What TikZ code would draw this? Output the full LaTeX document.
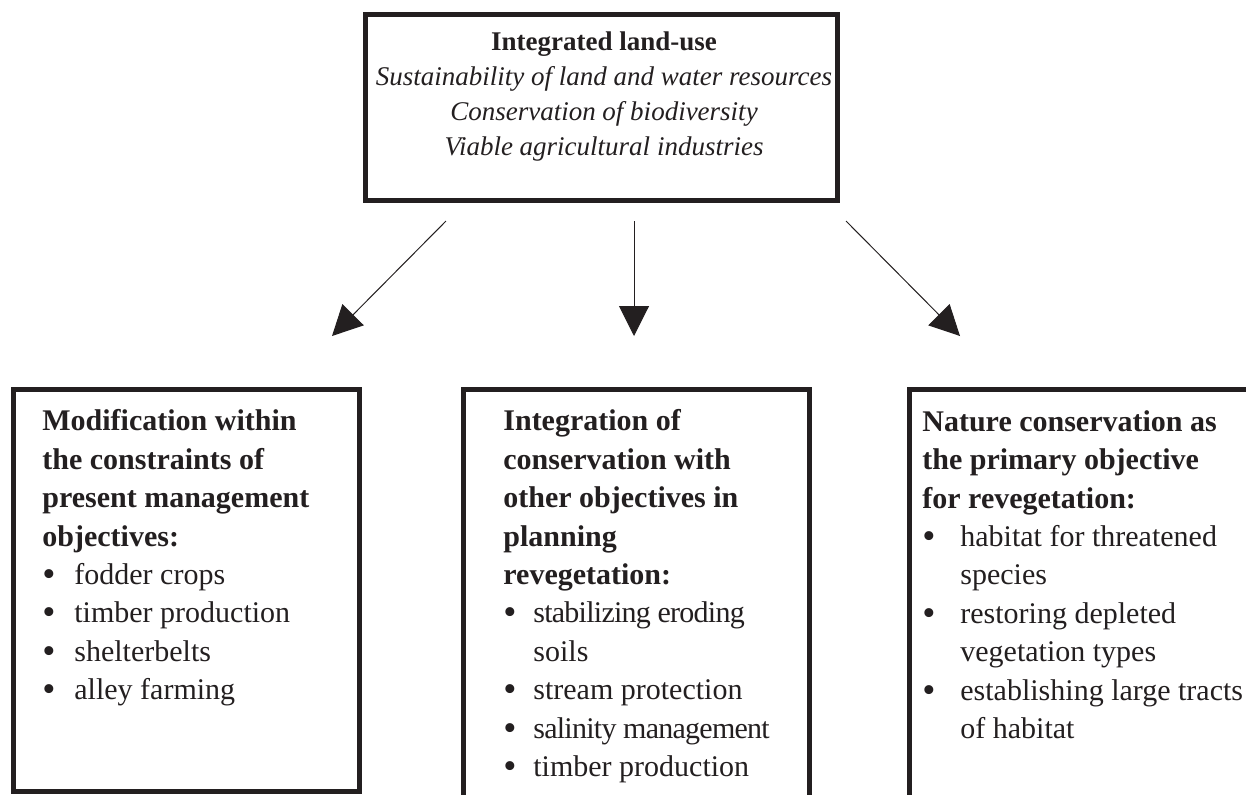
\documentclass[tikz,border=0pt]{standalone}
\usepackage{fontspec}
\setmainfont{Liberation Serif}
\newfontfamily\tightfont{Liberation Serif}[LetterSpace=-2.5]
\usepackage{graphicx}
\usepackage{xcolor}
\usetikzlibrary{arrows.meta,positioning,calc}
\definecolor{ink}{HTML}{231F20}
\newcommand{\bul}[1][16pt]{\makebox[#1][l]{\raisebox{-1pt}{\scalebox{1.25}{\textbullet}}}}

\begin{document}
\begin{tikzpicture}[x=0.5pt,y=-0.5pt,>={Triangle[length=15pt,width=15pt]},
  frame/.style={draw=ink,line width=2.5pt,rectangle,inner sep=0pt},
  boxtext/.style={anchor=north west,inner sep=0pt,align=left,text=ink,font=\fontsize{15}{19.2}\selectfont},
  link/.style={->,draw=ink,line width=0.5pt}]
  \useasboundingbox (0,0) rectangle (1246,794);
  \clip (0,0) rectangle (1246,794);
  \node[frame,minimum width=236pt,minimum height=93pt] (landuse) at (601.5,107.5) {};
  \node[anchor=north,inner sep=0pt,align=center,text=ink,font=\fontsize{13.5}{17.5}\selectfont] (landusetext) at (604,31.4) {\textbf{Integrated land-use}\\ \textit{Sustainability of land and water resources}\\ \textit{Conservation of biodiversity}\\ \textit{Viable agricultural industries}};
  \coordinate (lfrom) at (446,221);
  \coordinate (lto) at (332,336);
  \coordinate (mfrom) at (634,221);
  \coordinate (mto) at (634,336);
  \coordinate (rfrom) at (846,221);
  \coordinate (rto) at (960,336);
  \draw[link] (lfrom)--(lto);
  \draw[link] (mfrom)--(mto);
  \draw[link] (rfrom)--(rto);
  \node[frame,minimum width=173pt,minimum height=201pt] (modbox) at (186.5,590.5) {};
  \node[frame,minimum width=173pt,minimum height=210pt] (intbox) at (636.5,599.5) {};
  \node[frame,minimum width=195pt,minimum height=210pt] (natbox) at (1104.5,599.5) {};
  \node[boxtext] (modtext) at (42,409.3) {\textbf{Modification within}\\ \textbf{the constraints of}\\ \textbf{present management}\\ \textbf{objectives:}\\ \bul fodder crops\\ \bul timber production\\ \bul shelterbelts\\ \bul alley farming};
  \node[boxtext] (inttext) at (503,409.3) {\textbf{Integration of}\\ \textbf{conservation with}\\ \textbf{other objectives in}\\ \textbf{planning}\\ \textbf{revegetation:}\\ \bul[15pt]{\tightfont stabilizing eroding}\\ \hspace*{15pt}soils\\ \bul[15pt]stream protection\\ \bul[15pt]{\tightfont salinity management}\\ \bul[15pt]timber production};
  \node[boxtext] (nattext) at (922,410) {\textbf{Nature conservation as}\\ \textbf{the primary objective}\\ \textbf{for revegetation:}\\ \bul[19pt]habitat for threatened\\ \hspace*{19pt}species\\ \bul[19pt]restoring depleted\\ \hspace*{19pt}vegetation types\\ \bul[19pt]establishing large tracts\\ \hspace*{19pt}of habitat};
\end{tikzpicture}
\end{document}
